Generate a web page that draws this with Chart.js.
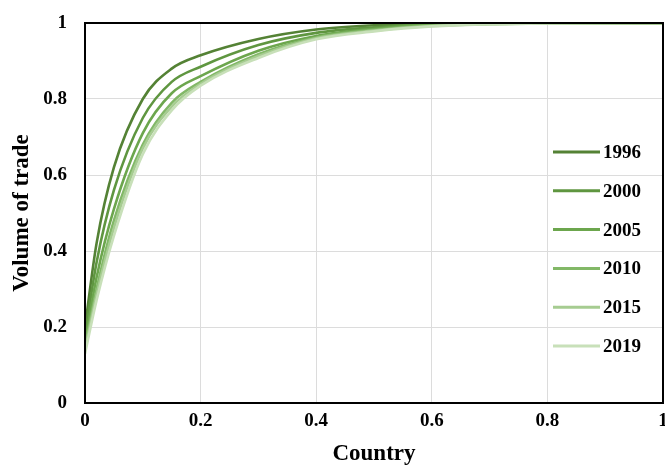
<!DOCTYPE html>
<html>
<head>
<meta charset="utf-8">
<script src="https://cdn.jsdelivr.net/npm/chart.js@4"></script>
<style>
  html,body{margin:0;padding:0;background:#fff;}
  #wrap{width:665px;height:468px;}
</style>
</head>
<body>
<div id="wrap"><canvas id="lorenz"></canvas></div>
<script>
// ===== 数据 =====
const shareX = [0, 0.02, 0.05, 0.1, 0.15, 0.2, 0.3, 0.4, 0.5, 0.6, 0.8, 1];
const years = ["1996", "2000", "2005", "2010", "2015", "2019"];
const v1996 = [0.20, 0.42, 0.62, 0.80, 0.88, 0.915, 0.958, 0.983, 0.994, 0.999, 1, 1];
const v2000 = [0.18, 0.37, 0.56, 0.75, 0.845, 0.885, 0.942, 0.974, 0.989, 0.997, 1, 1];
const v2005 = [0.16, 0.33, 0.51, 0.71, 0.815, 0.86, 0.927, 0.966, 0.985, 0.995, 1, 1];
const v2010 = [0.15, 0.30, 0.48, 0.68, 0.79, 0.845, 0.918, 0.962, 0.982, 0.993, 0.999, 1];
const v2015 = [0.14, 0.285, 0.46, 0.67, 0.78, 0.84, 0.913, 0.96, 0.98, 0.992, 0.999, 1];
const v2019 = [0.13, 0.27, 0.44, 0.655, 0.77, 0.835, 0.908, 0.957, 0.978, 0.991, 0.999, 1];
const series = [v1996, v2000, v2005, v2010, v2015, v2019];
const colors = ["#548235", "#5f9640", "#6ca64d", "#82b867", "#a6cc91", "#c8e0b9"];

const FONT = "'Liberation Serif', 'Times New Roman', serif";
const fmtTick = v => String(Number(v.toFixed(1)));

// 图例（画在绘图区内右侧）
const innerLegend = {
  id: "innerLegend",
  afterDraw(chart){
    const ctx = chart.ctx;
    const x0 = 553, x1 = 600, y0 = 152, gap = 38.8;
    ctx.save();
    chart.data.datasets.forEach((ds, i) => {
      const y = y0 + i*gap;
      ctx.strokeStyle = ds.borderColor;
      ctx.lineWidth = 3;
      ctx.beginPath(); ctx.moveTo(x0, y); ctx.lineTo(x1, y); ctx.stroke();
      ctx.fillStyle = "#000";
      ctx.font = "bold 19px " + FONT;
      ctx.textBaseline = "middle";
      ctx.fillText(ds.label, x1 + 3, y + 1);
    });
    ctx.restore();
  }
};

// 黑色外框
const frame = {
  id: "frame",
  afterDatasetsDraw(chart){
    const {ctx, chartArea:a} = chart;
    ctx.save();
    ctx.strokeStyle = "#000";
    ctx.lineWidth = 2;
    ctx.strokeRect(a.left, a.top, a.right - a.left, a.bottom - a.top);
    ctx.restore();
  }
};

new Chart(document.getElementById("lorenz"), {
  type: "line",
  data: {
    datasets: years.map((y, i) => ({
      label: y,
      data: shareX.map((x, j) => ({x, y: series[i][j]})),
      borderColor: colors[i],
      borderWidth: 2.6,
      pointRadius: 0,
      fill: false,
      order: -i,
      cubicInterpolationMode: "monotone"
    }))
  },
  options: {
    responsive: true, maintainAspectRatio: false, animation: false,
    layout: {padding: {top: 23, right: 2, left: 0, bottom: 0}},
    plugins: {legend: {display: false}, tooltip: {enabled: false}},
    scales: {
      x: {
        type: "linear", min: 0, max: 1,
        ticks: {stepSize: 0.2, color: "#000", padding: 7, callback: fmtTick,
          font: {family: FONT, size: 19, weight: "bold"}},
        grid: {color: "#dcdcdc", drawTicks: false},
        border: {display: false},
        title: {display: true, text: "Country", color: "#000", padding: {top: 9, bottom: 0},
          font: {family: FONT, size: 23, weight: "bold"}},
        afterFit(s){ s.height = 65; s.paddingLeft = 0; s.paddingRight = 0; }
      },
      y: {
        min: 0, max: 1,
        ticks: {stepSize: 0.2, color: "#000", padding: 18, callback: fmtTick,
          font: {family: FONT, size: 19, weight: "bold"}},
        grid: {color: "#dcdcdc", drawTicks: false},
        border: {display: false},
        title: {display: true, text: "Volume of trade", color: "#000", padding: {top: 8, bottom: 8},
          font: {family: FONT, size: 23, weight: "bold"}},
        afterFit(s){ s.width = 85; s.paddingTop = 0; s.paddingBottom = 0; }
      }
    }
  },
  plugins: [frame, innerLegend]
});
</script>
</body>
</html>
